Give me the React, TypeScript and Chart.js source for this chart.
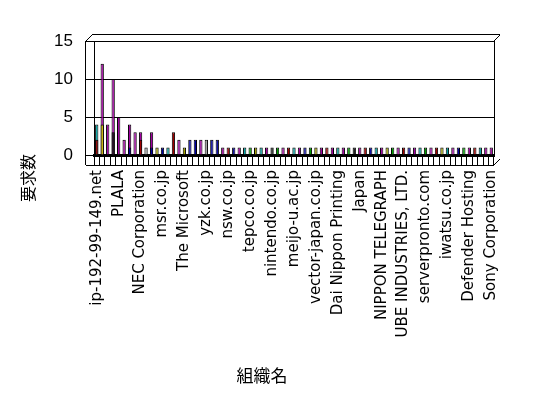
import React, { useEffect, useRef } from 'react';
import { Chart, registerables } from 'chart.js';
Chart.register(...registerables);

// 73 organisations; only every 4th name is printed on the axis in the reference
const shownNames = [
  'ip-192-99-149.net', 'PLALA', 'NEC Corporation', 'msr.co.jp', 'The Microsoft',
  'yzk.co.jp', 'nsw.co.jp', 'tepco.co.jp', 'nintendo.co.jp', 'meijo-u.ac.jp',
  'vector-japan.co.jp', 'Dai Nippon Printing', 'Japan', 'NIPPON TELEGRAPH',
  'UBE INDUSTRIES, LTD.', 'serverpronto.com', 'iwatsu.co.jp', 'Defender Hosting',
  'Sony Corporation',
];
const categories: string[] = Array.from({ length: 73 }, (_, i) => (i % 4 === 0 ? shownNames[i / 4] : ''));

// back series (tallest bar of each organisation)
const backValues = [
  4, 12, 4, 10, 5, 2, 4, 3, 3, 1, 3, 1, 1, 1, 3, 2, 1, 2, 2, 2, 2, 2, 2,
  1, 1, 1, 1, 1, 1, 1, 1, 1, 1, 1, 1, 1, 1, 1, 1, 1, 1, 1, 1, 1, 1, 1, 1, 1, 1, 1,
  1, 1, 1, 1, 1, 1, 1, 1, 1, 1, 1, 1, 1, 1, 1, 1, 1, 1, 1, 1, 1, 1, 1,
];
// front series (shorter bars in front)
const frontValues: (number | null)[] = [
  2, 4, null, 3, null, null, 1, null, 2, null, 1,
];

const yTicks = [0, 5, 10, 15];
const yTitle = '要求数';
const xTitle = '組織名';

const PAL: Record<string, string> = {
  m: '#a000a0', n: '#0000a0', t: '#00a0a0', r: '#a00000', o: '#a0a000',
  y: '#d0d000', g: '#a0a0a0', k: '#111111', G: '#00a000',
};
const backKeys = ('tmmmmmmmmgmontrmonnmgnn' + 'mrnmtGotmkGmrtmnGomrmtmGkmrntmoGmrnmtGmrotmnGmrtmm').split('');
const frontKeys = ['r', 'y', '', 'k', '', '', 'n', '', 'r', '', 'n'];

const framePlugin = {
  id: 'frame3d',
  afterDraw(chart: any) {
    const { ctx, chartArea } = chart;
    const { left, right, top, bottom } = chartArea;
    ctx.save();
    ctx.strokeStyle = '#000';
    ctx.lineWidth = 1;
    const line = (x1: number, y1: number, x2: number, y2: number) => {
      ctx.beginPath();
      ctx.moveTo(x1, y1);
      ctx.lineTo(x2, y2);
      ctx.stroke();
    };
    // right wall
    line(Math.round(right) + 0.5, top, Math.round(right) + 0.5, bottom);
    // left outer wall
    line(Math.round(left) - 8.5, top, Math.round(left) - 8.5, bottom + 10);
    // floor front edge
    line(left - 8, Math.round(bottom) + 10.5, right, Math.round(bottom) + 10.5);
    // back top edge with small diagonals
    line(left - 2, Math.round(top) - 6.5, right + 6, Math.round(top) - 6.5);
    line(left - 8, top, left - 2, top - 6);
    line(right, top, right + 6, top - 6);
    line(right, bottom + 10, right + 6, bottom + 4);

    // axis titles
    ctx.fillStyle = '#000';
    ctx.textAlign = 'center';
    ctx.textBaseline = 'middle';
    ctx.font = '17px "Noto Sans CJK JP"';
    ctx.fillText(xTitle, 262, 376);
    ctx.translate(28, 178);
    ctx.rotate(-Math.PI / 2);
    ctx.font = '16px "Noto Sans CJK JP"';
    ctx.fillText(yTitle, 0, 0);
    ctx.restore();
  },
};

export default function App() {
  const ref = useRef<HTMLCanvasElement>(null);
  useEffect(() => {
    document.body.style.margin = '0';
    const canvas = ref.current!;
    const chart = new Chart(canvas, {
      type: 'bar',
      data: {
        labels: categories,
        datasets: [
          {
            label: 'front',
            data: frontValues,
            backgroundColor: frontKeys.map((k) => PAL[k] || '#000'),
            borderColor: '#000',
            borderWidth: 1,
            barPercentage: 0.6,
            categoryPercentage: 1,
            grouped: false,
            order: 0,
          },
          {
            label: yTitle,
            data: backValues,
            backgroundColor: backKeys.map((k) => PAL[k] || '#a000a0'),
            borderColor: '#000',
            borderWidth: 1,
            barPercentage: 0.6,
            categoryPercentage: 1,
            grouped: false,
            order: 1,
          },
        ],
      } as any,
      options: {
        animation: false,
        responsive: false,
        layout: { padding: { left: 16, right: 54, top: 41, bottom: 10 } },
        plugins: { legend: { display: false }, tooltip: { enabled: false } },
        scales: {
          x: {
            grid: { drawOnChartArea: false, color: '#000', tickLength: 10, offset: true },
            border: { color: '#000', width: 3 },
            ticks: {
              autoSkip: false,
              maxRotation: 90,
              minRotation: 90,
              color: '#000',
              padding: 5,
              font: { family: 'DejaVu Sans', size: 15 },
              callback: (_v: any, i: number) => categories[i],
            },
            afterFit: (s: any) => {
              s.height = 233;
            },
          },
          y: {
            min: 0,
            max: 15,
            afterBuildTicks: (s: any) => {
              s.ticks = yTicks.map((v) => ({ value: v }));
            },
            grid: { color: '#000', tickLength: 9 },
            border: { color: '#000', width: 1 },
            ticks: {
              color: '#000',
              padding: 12,
              font: { family: 'Liberation Sans', size: 17 },
            },
            afterFit: (s: any) => {
              s.width = 78;
            },
          },
        },
      } as any,
      plugins: [framePlugin],
    });
    return () => chart.destroy();
  }, []);
  return (
    <div style={{ width: 548, height: 398, background: '#fff' }}>
      <canvas ref={ref} width={548} height={398} style={{ width: 548, height: 398, display: 'block' }} />
    </div>
  );
}
